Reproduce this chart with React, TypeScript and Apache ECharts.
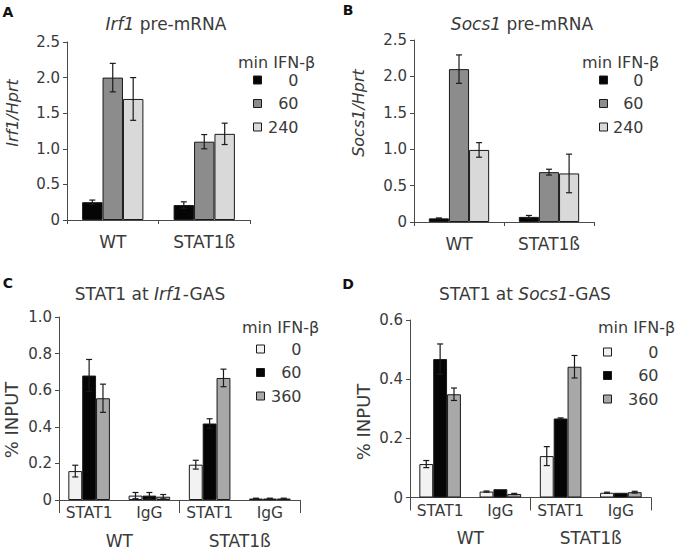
import React, { useEffect, useRef } from 'react';
import * as echarts from 'echarts';

const FONT = 'DejaVu Sans';
const TXT = '#3a3a3a';
const AX = '#4a4a4a';
const BORDER = '#1a1a1a';

// ---- Panels A & B (pre-mRNA) ----
const abCategories = ['WT', 'STAT1ß'];
const abTimes = ['0', '60', '240'];
const abColors = ['#050505', '#8c8c8c', '#d9d9d9'];

const aT0 = [0.25, 0.21];
const aT0Err = [0.03, 0.045];
const aT60 = [2.0, 1.1];
const aT60Err = [0.2, 0.1];
const aT240 = [1.7, 1.21];
const aT240Err = [0.3, 0.15];

const bT0 = [0.05, 0.07];
const bT0Err = [0.006, 0.02];
const bT60 = [2.1, 0.685];
const bT60Err = [0.195, 0.04];
const bT240 = [0.99, 0.667];
const bT240Err = [0.1, 0.265];

// ---- Panels C & D (ChIP) ----
const cdCategories = ['STAT1', 'IgG', 'STAT1', 'IgG'];
const cdGroups = ['WT', 'STAT1ß'];
const cdTimes = ['0', '60', '360'];
const cdColors = ['#f2f2f2', '#050505', '#a8a8a8'];

const cT0 = [0.158, 0.024, 0.193, 0.008];
const cT0Err = [0.032, 0.017, 0.024, 0.002];
const cT60 = [0.68, 0.024, 0.418, 0.008];
const cT60Err = [0.088, 0.017, 0.026, 0.002];
const cT360 = [0.556, 0.018, 0.667, 0.008];
const cT360Err = [0.077, 0.012, 0.048, 0.002];

const dT0 = [0.113, 0.02, 0.14, 0.016];
const dT0Err = [0.012, 0.002, 0.032, 0.002];
const dT60 = [0.468, 0.028, 0.267, 0.016];
const dT60Err = [0.051, 0.0, 0.002, 0.0];
const dT360 = [0.349, 0.012, 0.442, 0.018];
const dT360Err = [0.021, 0.002, 0.038, 0.003];

const fmtTick = (v: number) => (v === 0 ? '0' : v.toFixed(1));

function makeErr(xi: number, vals: number[][], errs: number[][], gap: number) {
  const data: number[][] = [];
  vals.forEach((arr, bi) => {
    arr.forEach((v, ci) => {
      data.push([ci, v, errs[bi][ci], bi]);
    });
  });
  return {
    type: 'custom',
    xAxisIndex: xi,
    yAxisIndex: xi,
    silent: true,
    z: 5,
    encode: { x: 0, y: 1 },
    data,
    renderItem: (params: any, api: any) => {
      const cat = api.value(0);
      const val = api.value(1);
      const err = api.value(2);
      const bi = api.value(3);
      if (!err || err <= 0) return { type: 'group', children: [] };
      const catW = api.size([1, 0])[0];
      const groupW = catW * (1 - gap);
      const bw = groupW / 3;
      const base = api.coord([cat, val]);
      const cx = base[0] - groupW / 2 + (bi + 0.5) * bw;
      const top = api.coord([cat, val + err])[1];
      const bot = api.coord([cat, Math.max(0, val - err)])[1];
      const hw = 3;
      const st = { stroke: '#1a1a1a', lineWidth: 1.2 };
      return {
        type: 'group',
        children: [
          { type: 'line', shape: { x1: cx, y1: top, x2: cx, y2: bot }, style: st },
          { type: 'line', shape: { x1: cx - hw, y1: top, x2: cx + hw, y2: top }, style: st },
          { type: 'line', shape: { x1: cx - hw, y1: bot, x2: cx + hw, y2: bot }, style: st },
        ],
      };
    },
  };
}

function bars(prefix: string, xi: number, names: string[], colors: string[], vals: number[][], gap: number) {
  return vals.map((arr, i) => ({
    type: 'bar',
    name: prefix + '·' + names[i],
    xAxisIndex: xi,
    yAxisIndex: xi,
    data: arr,
    barGap: '0%',
    barCategoryGap: Math.round(gap * 100) + '%',
    silent: true,
    itemStyle: { color: colors[i], borderColor: BORDER, borderWidth: 1 },
  }));
}

function legend(prefix: string, names: string[], left: number, top: number, gapPx: number, w: number) {
  return {
    orient: 'vertical',
    left,
    top,
    padding: 0,
    itemWidth: 8,
    itemHeight: 8,
    itemGap: gapPx,
    icon: 'rect',
    selectedMode: false,
    data: names.map((n) => prefix + '·' + n),
    formatter: (n: string) => '{r|' + n.split('·')[1] + '}',
    itemStyle: { borderColor: BORDER, borderWidth: 1 },
    textStyle: {
      color: TXT,
      fontFamily: FONT,
      fontSize: 16,
      rich: { r: { width: w, align: 'right', fontSize: 16, fontFamily: FONT, color: TXT, lineHeight: 16 } },
    },
  };
}

function yAxis(gi: number, max: number, interval: number) {
  return {
    type: 'value',
    gridIndex: gi,
    min: 0,
    max,
    interval,
    splitLine: { show: false },
    axisLine: { show: true, lineStyle: { color: AX, width: 1 } },
    axisTick: { show: true, length: 4, lineStyle: { color: AX } },
    axisLabel: { color: TXT, fontFamily: FONT, fontSize: 15, margin: 7, formatter: fmtTick },
  };
}

function txt(x: number, y: number, text: string, size: number, extra: any = {}) {
  return {
    type: 'text',
    x,
    y,
    ...extra.el,
    style: {
      text,
      fill: TXT,
      fontFamily: FONT,
      fontSize: size,
      align: 'center',
      verticalAlign: 'middle',
      ...extra.style,
    },
  };
}

function richTitle(x: number, y: number, text: string, size: number) {
  const base = { fontFamily: FONT, fontSize: size, fill: TXT, color: TXT };
  return {
    type: 'text',
    x,
    y,
    style: {
      text,
      fill: TXT,
      fontFamily: FONT,
      fontSize: size,
      align: 'center',
      verticalAlign: 'middle',
      rich: { i: { ...base, fontStyle: 'italic' }, n: { ...base } },
    },
  };
}

export default function App() {
  const ref = useRef<HTMLDivElement>(null);
  useEffect(() => {
    if (!ref.current) return;
    const chart = echarts.init(ref.current, undefined, { renderer: 'svg' });
    const abGap = 0.33;
    const cdGap = 0.31;
    const abX = (gi: number) => ({
      type: 'category',
      gridIndex: gi,
      data: abCategories,
      axisLine: { show: true, lineStyle: { color: AX, width: 1 } },
      axisTick: { show: true, length: 4, lineStyle: { color: AX } },
      axisLabel: { color: TXT, fontFamily: FONT, fontSize: 17, margin: 13 },
    });
    const cdX = (gi: number) => ({
      type: 'category',
      gridIndex: gi,
      data: cdCategories,
      axisLine: { show: true, lineStyle: { color: AX, width: 1 } },
      axisTick: { show: false },
      axisLabel: { color: TXT, fontFamily: FONT, fontSize: 15.5, margin: 5, interval: 0 },
    });
    const grpX = (gi: number) => ({
      type: 'category',
      gridIndex: gi,
      position: 'bottom',
      data: cdGroups,
      axisLine: { show: false },
      axisTick: { show: true, length: 13, lineStyle: { color: AX } },
      axisLabel: { color: TXT, fontFamily: FONT, fontSize: 17, margin: 32 },
    });
    const option: any = {
      animation: false,
      backgroundColor: '#ffffff',
      grid: [
        { left: 67, top: 42, width: 183, height: 178 },
        { left: 414, top: 40, width: 180, height: 182 },
        { left: 59, top: 317, width: 241, height: 183 },
        { left: 410, top: 320, width: 241, height: 177.5 },
      ],
      xAxis: [abX(0), abX(1), cdX(2), cdX(3), grpX(2), grpX(3)],
      yAxis: [yAxis(0, 2.5, 0.5), yAxis(1, 2.5, 0.5), yAxis(2, 1.0, 0.2), yAxis(3, 0.6, 0.2)],
      legend: [
        legend('A', abTimes, 253, 72, 7.5, 32),
        legend('B', abTimes, 599, 72, 7.5, 31),
        legend('C', cdTimes, 256, 341, 7.5, 32),
        legend('D', cdTimes, 603, 344, 7.5, 42),
      ],
      series: [
        ...bars('A', 0, abTimes, abColors, [aT0, aT60, aT240], abGap),
        ...bars('B', 1, abTimes, abColors, [bT0, bT60, bT240], abGap),
        ...bars('C', 2, cdTimes, cdColors, [cT0, cT60, cT360], cdGap),
        ...bars('D', 3, cdTimes, cdColors, [dT0, dT60, dT360], cdGap),
        makeErr(0, [aT0, aT60, aT240], [aT0Err, aT60Err, aT240Err], abGap),
        makeErr(1, [bT0, bT60, bT240], [bT0Err, bT60Err, bT240Err], abGap),
        makeErr(2, [cT0, cT60, cT360], [cT0Err, cT60Err, cT360Err], cdGap),
        makeErr(3, [dT0, dT60, dT360], [dT0Err, dT60Err, dT360Err], cdGap),
      ],
      graphic: [
        txt(8, 12, 'A', 14, { style: { fontWeight: 'bold', fill: '#111' } }),
        txt(348, 10, 'B', 14, { style: { fontWeight: 'bold', fill: '#111' } }),
        txt(8, 283, 'C', 14, { style: { fontWeight: 'bold', fill: '#111' } }),
        txt(348, 284, 'D', 14, { style: { fontWeight: 'bold', fill: '#111' } }),
        richTitle(166, 24, '{i|Irf1}{n| pre-mRNA}', 17),
        richTitle(522, 24, '{i|Socs1}{n| pre-mRNA}', 17),
        richTitle(150, 294, '{n|STAT1 at }{i|Irf1}{n|-GAS}', 17),
        richTitle(525, 294, '{n|STAT1 at }{i|Socs1}{n|-GAS}', 17),
        txt(12, 113, 'Irf1/Hprt', 16, { el: { rotation: Math.PI / 2 }, style: { fontStyle: 'italic' } }),
        txt(358, 113, 'Socs1/Hprt', 16, { el: { rotation: Math.PI / 2 }, style: { fontStyle: 'italic' } }),
        txt(11, 420, '% INPUT', 18, { el: { rotation: Math.PI / 2 } }),
        txt(363, 422, '% INPUT', 18, { el: { rotation: Math.PI / 2 } }),
        txt(238, 62, 'min IFN-β', 16, { style: { align: 'left' } }),
        txt(582, 62, 'min IFN-β', 16, { style: { align: 'left' } }),
        txt(242, 327, 'min IFN-β', 16, { style: { align: 'left' } }),
        txt(598, 327, 'min IFN-β', 16, { style: { align: 'left' } }),
      ],
    };
    chart.setOption(option);
    return () => chart.dispose();
  }, []);
  return <div ref={ref} style={{ position: 'fixed', left: 0, top: 0, width: 680, height: 549 }} />;
}
